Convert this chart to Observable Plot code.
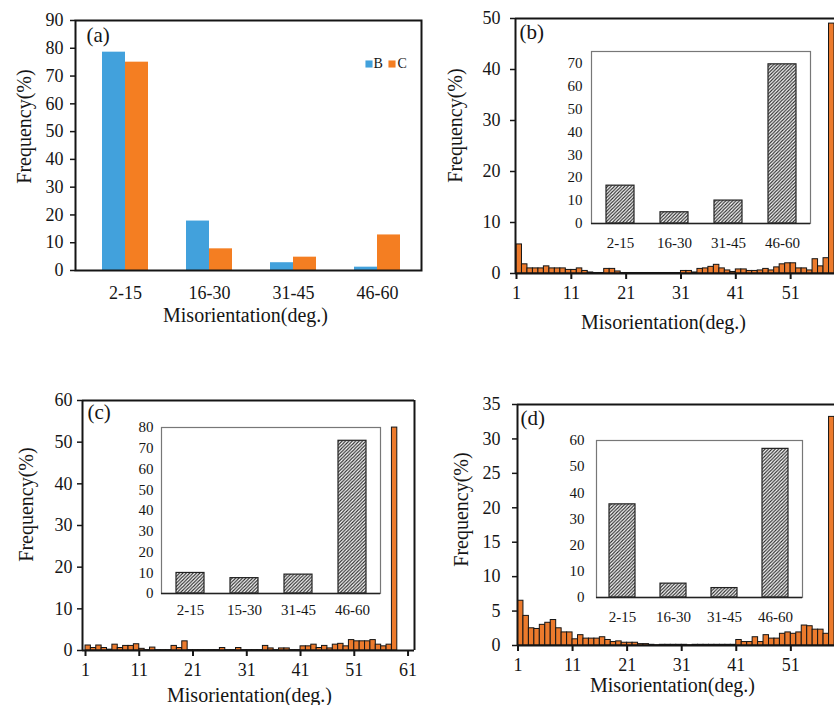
<!DOCTYPE html>
<html><head><meta charset="utf-8">
<script src="https://cdn.jsdelivr.net/npm/d3@7"></script>
<script src="https://cdn.jsdelivr.net/npm/@observablehq/plot@0.6"></script>
<style>
html,body{margin:0;padding:0;background:#fff;}
#wrap{position:relative;width:834px;height:705px;overflow:hidden;background:#fff;}
.panel{position:absolute;}
</style></head><body><div id="wrap"></div>
<script>
// ---------- DATA ----------
// (a) grouped bars
const groupCats = ["2-15", "16-30", "31-45", "46-60"];
const freqA_B = [78.6, 17.8, 2.8, 1.2];
const freqA_C = [75.0, 7.8, 4.8, 12.8];
const yTicksA = [0, 10, 20, 30, 40, 50, 60, 70, 80, 90];

// (b)(c)(d) histograms, bin start (deg.)
const bins = [1,2,3,4,5,6,7,8,9,10,11,12,13,14,15,16,17,18,19,20,21,22,23,24,25,26,27,28,29,30,
              31,32,33,34,35,36,37,38,39,40,41,42,43,44,45,46,47,48,49,50,51,52,53,54,55,56,57,58];
const histB = [5.7,1.8,1.0,1.0,1.0,1.4,1.0,1.0,1.0,0.7,0.7,1.0,0.5,0.2,0.1,0.1,0.9,0.9,0.4,0.1,
               0.1,0.1,0.1,0.1,0.1,0.1,0.1,0.1,0.1,0.1,0.5,0.5,0.2,0.9,1.0,1.3,1.7,1.0,0.6,0.3,
               0.8,0.8,0.5,0.5,0.6,0.9,0.6,1.2,1.8,2.0,2.0,1.0,1.0,0.6,2.8,1.4,3.0,49.0];
const histC = [1.2,0.6,1.2,0.6,0.2,1.4,0.6,1.1,1.1,1.5,0.4,0.1,0.7,0.1,0.1,0.1,1.1,0.6,2.2,0.1,
               0.1,0.1,0.1,0.1,0.1,0.6,0.1,0.1,0.6,0.1,0.1,0.1,0.1,1.1,0.5,0.1,0.5,0.5,0.1,0.1,
               1.0,1.0,1.4,0.6,1.1,0.5,1.4,1.6,1.0,2.5,2.2,2.2,2.2,2.5,1.4,1.0,1.4,53.5];
const histD = [6.5,4.3,2.5,2.4,3.0,3.3,3.7,2.5,1.9,1.9,0.9,1.5,1.0,1.0,1.0,1.2,0.8,0.5,0.6,0.4,
               0.4,0.4,0.2,0.2,0.1,0.05,0.1,0.1,0.1,0.1,0.1,0.05,0.1,0.1,0.1,0.1,0.1,0.1,0.1,0.1,
               0.8,0.5,0.5,1.2,0.5,1.5,1.0,1.0,1.7,1.9,1.7,1.9,2.9,2.8,2.3,2.3,1.7,33.2];
const xTicksBD = [1, 11, 21, 31, 41, 51];
const xTicksC = [1, 11, 21, 31, 41, 51, 61];
const yTicksB = [0, 10, 20, 30, 40, 50];
const yTicksC = [0, 10, 20, 30, 40, 50, 60];
const yTicksD = [0, 5, 10, 15, 20, 25, 30, 35];

// insets
const insetCatsB = ["2-15", "16-30", "31-45", "46-60"];
const insetValsB = [16.5, 4.9, 10.0, 69.4];
const insetTicksB = [0, 10, 20, 30, 40, 50, 60, 70];
const insetCatsC = ["2-15", "15-30", "31-45", "46-60"];
const insetValsC = [9.9, 7.4, 9.1, 73.6];
const insetTicksC = [0, 10, 20, 30, 40, 50, 60, 70, 80];
const insetCatsD = ["2-15", "16-30", "31-45", "46-60"];
const insetValsD = [35.6, 5.3, 3.6, 56.8];
const insetTicksD = [0, 10, 20, 30, 40, 50, 60];

const xTitle = "Misorientation(deg.)";
const yTitle = "Frequency(%)";

// ---------- STYLE ----------
const FONT = "'Liberation Serif','Times New Roman',Times,serif";
const BLUE = "#42A1DC", ORANGE = "#F47E22", HIST = "#EC7A2C", INK = "#151515";
const wrap = document.getElementById("wrap");
function place(svg, left, top) {
  const div = document.createElement("div");
  div.className = "panel";
  div.style.left = left + "px";
  div.style.top = top + "px";
  div.appendChild(svg);
  wrap.appendChild(div);
}
function baseStyle(size) {
  return {background: "transparent", fontFamily: FONT, fontSize: size + "px", color: INK, overflow: "visible", maxWidth: "none"};
}
const T = {textAnchor: "middle", lineAnchor: "middle", fill: INK};

// ---------- (a) ----------
const dataA = groupCats.map((c, i) => ({cat: c, B: freqA_B[i], C: freqA_C[i]}));
const pa = Plot.plot({
  width: 430, height: 340, marginLeft: 75, marginRight: 9, marginTop: 20, marginBottom: 70,
  style: baseStyle(18),
  x: {type: "band", domain: groupCats, paddingInner: 0.457, paddingOuter: 0.2285, insetLeft: 6.7, insetRight: 0.5},
  y: {domain: [0, 90]},
  marks: [
    Plot.barY(dataA, {x: "cat", y: "B", fill: BLUE, insetRight: 23}),
    Plot.barY(dataA, {x: "cat", y: "C", fill: ORANGE, insetLeft: 23}),
    Plot.frame({stroke: INK, strokeWidth: 2}),
    Plot.axisY({ticks: yTicksA, tickSize: 5, tickPadding: 7, label: null, stroke: INK, strokeWidth: 1.5, fontSize: 18}),
    Plot.axisX({tickSize: 0, tickPadding: 16, label: null, fontSize: 18}),
    Plot.text([xTitle], {...T, frameAnchor: "bottom", dx: -3, dy: 45, fontSize: 20}),
    Plot.text([yTitle], {...T, frameAnchor: "left", dx: -51, dy: -19, rotate: -90, fontSize: 20}),
    Plot.text(["(a)"], {...T, textAnchor: "start", frameAnchor: "top-left", dx: 11, dy: 15, fontSize: 21}),
    Plot.dot(["B"], {frameAnchor: "top-right", dx: -52.5, dy: 43.5, symbol: "square", r: 4, fill: BLUE}),
    Plot.text(["B"], {...T, textAnchor: "start", frameAnchor: "top-right", dx: -48, dy: 43.5, fontSize: 14}),
    Plot.dot(["C"], {frameAnchor: "top-right", dx: -29.5, dy: 43.5, symbol: "square", r: 4, fill: ORANGE}),
    Plot.text(["C"], {...T, textAnchor: "start", frameAnchor: "top-right", dx: -24, dy: 43.5, fontSize: 14})
  ]
});
place(pa, 0, 0);

// ---------- histogram panels ----------
function histPanel(opts) {
  const data = bins.map((b, i) => ({bin: b, v: opts.values[i]}));
  const marks = [
    Plot.rect(data, {x1: "bin", x2: d => d.bin + 1, y1: 0, y2: "v", fill: HIST, stroke: INK, strokeWidth: 1}),
    Plot.ruleY([0], {stroke: INK, strokeWidth: 2}),
    Plot.ruleY([opts.yDomain[1]], {stroke: INK, strokeWidth: 2}),
    Plot.ruleX([opts.xDomain[0]], {stroke: INK, strokeWidth: 2}),
    Plot.axisX({ticks: opts.xTicks, tickSize: 6, tickPadding: 7, label: null, stroke: INK, strokeWidth: 2, fontSize: 18}),
    Plot.axisY({ticks: opts.yTicks, tickSize: 5, tickPadding: opts.yPad, label: null, stroke: INK, strokeWidth: 1.5, fontSize: 18}),
    Plot.text([xTitle], {...T, frameAnchor: "bottom", dx: opts.xt[0], dy: opts.xt[1], fontSize: 20}),
    Plot.text([yTitle], {...T, frameAnchor: "left", dx: opts.yt[0], dy: opts.yt[1], rotate: -90, fontSize: 20}),
    Plot.text([opts.tag], {...T, textAnchor: "start", frameAnchor: "top-left", dx: opts.tg[0], dy: opts.tg[1], fontSize: 21})
  ];
  if (opts.rightLine) marks.push(Plot.ruleX([opts.xDomain[1]], {stroke: INK, strokeWidth: 2}));
  return Plot.plot({
    width: opts.w, height: opts.h, marginLeft: opts.m[0], marginRight: opts.m[1], marginTop: opts.m[2], marginBottom: opts.m[3],
    style: baseStyle(18),
    x: {domain: opts.xDomain},
    y: {domain: opts.yDomain},
    marks
  });
}

const pb = histPanel({values: histB, xDomain: [0.82, 59], yDomain: [0, 50], xTicks: xTicksBD, yTicks: yTicksB, yPad: 10,
  w: 414, h: 340, m: [95, 0, 18, 67], xt: [-11.5, 49], yt: [-60, -20.5], tag: "(b)", tg: [4, 14], rightLine: false});
place(pb, 420, 0);

const pc = histPanel({values: histC, xDomain: [0.44, 62.2], yDomain: [0, 60], xTicks: xTicksC, yTicks: yTicksC, yPad: 5,
  w: 430, h: 325, m: [82, 16, 20, 55], xt: [1, 45], yt: [-56, -21], tag: "(c)", tg: [5, 12], rightLine: true});
place(pc, 0, 380);

const pd = histPanel({values: histD, xDomain: [0.91, 59], yDomain: [0, 35], xTicks: xTicksBD, yTicks: yTicksD, yPad: 12,
  w: 414, h: 325, m: [97, 0, 24, 60], xt: [-3.5, 40], yt: [-56, -15.5], tag: "(d)", tg: [3, 14], rightLine: false});
place(pd, 420, 380);

// ---------- insets ----------
function addHatch(svg, id) {
  const defs = d3.select(svg).insert("defs", ":first-child");
  const s = 3.4;
  const p = defs.append("pattern").attr("id", id).attr("patternUnits", "userSpaceOnUse")
    .attr("width", s).attr("height", s);
  p.append("rect").attr("width", s).attr("height", s).attr("fill", "#fff");
  p.append("path").attr("d", `M-1,1 l2,-2 M0,${s} l${s},-${s} M${s - 1},${s + 1} l2,-2`)
    .attr("stroke", "#2a2a2a").attr("stroke-width", 1.15);
}
function insetPanel(opts) {
  const data = opts.cats.map((c, i) => ({cat: c, v: opts.vals[i]}));
  const svg = Plot.plot({
    width: opts.w, height: opts.h, marginLeft: opts.m[0], marginRight: opts.m[1], marginTop: opts.m[2], marginBottom: opts.m[3],
    style: baseStyle(15),
    x: {type: "band", domain: opts.cats, paddingInner: 0.49, paddingOuter: 0.245},
    y: {domain: opts.yDomain},
    marks: [
      Plot.barY(data, {x: "cat", y: "v", fill: `url(#${opts.id})`, stroke: "#222", strokeWidth: 1.2}),
      Plot.frame({stroke: "#777", strokeWidth: 1.2}),
      Plot.ruleY([0], {stroke: "#222", strokeWidth: 1.5}),
      Plot.axisY({ticks: opts.ticks, tickSize: 0, tickPadding: opts.yPad, label: null, fontSize: 15}),
      Plot.axisX({tickSize: 0, tickPadding: opts.xPad, label: null, fontSize: 15})
    ]
  });
  addHatch(svg, opts.id);
  return svg;
}
place(insetPanel({cats: insetCatsB, vals: insetValsB, ticks: insetTicksB, yDomain: [0, 75], id: "hatch-b",
  w: 270, h: 220, m: [41, 10, 11, 37], yPad: 9, xPad: 14.3}), 550, 40);
place(insetPanel({cats: insetCatsC, vals: insetValsC, ticks: insetTicksC, yDomain: [0, 80], id: "hatch-c",
  w: 270, h: 210, m: [41, 10, 12, 32], yPad: 8, xPad: 11.3}), 120, 415);
place(insetPanel({cats: insetCatsD, vals: insetValsD, ticks: insetTicksD, yDomain: [0, 60], id: "hatch-d",
  w: 257, h: 205, m: [41, 10, 12, 36], yPad: 12, xPad: 14.3}), 555, 428);
</script>
</body></html>
